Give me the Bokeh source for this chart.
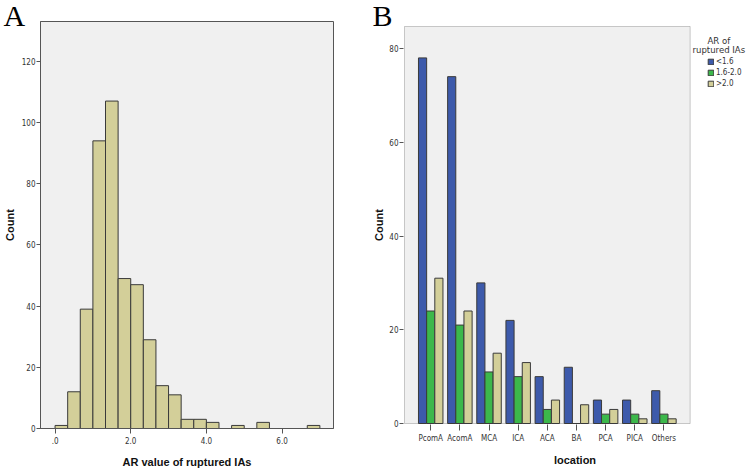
from bokeh.embed import file_html
from bokeh.layouts import column, row
from bokeh.models import (BoxAnnotation, ColumnDataSource, FixedTicker, Label,
                          Legend, LegendItem, Range1d, Title)
from bokeh.plotting import figure
from bokeh.resources import INLINE
from bokeh.transform import dodge

# ---------------- Panel A data: histogram of AR values ----------------
hist_bin_width = 1 / 3
hist_counts = [1, 12, 39, 94, 107, 49, 47, 29, 14, 11, 3, 3, 2, 0, 1, 0, 2, 0, 0, 0, 1]
a_xticks = [0, 2, 4, 6]
a_xtick_labels = [".0", "2.0", "4.0", "6.0"]
a_yticks = [0, 20, 40, 60, 80, 100, 120]

# ---------------- Panel B data: location by AR group ----------------
locations = ["PcomA", "AcomA", "MCA", "ICA", "ACA", "BA", "PCA", "PICA", "Others"]
ar_lt_16 = [78, 74, 30, 22, 10, 12, 5, 5, 7]
ar_16_20 = [24, 21, 11, 10, 3, 0, 2, 2, 2]
ar_gt_20 = [31, 24, 15, 13, 5, 4, 3, 1, 1]
series_names = ["<1.6", "1.6-2.0", ">2.0"]
legend_title_lines = ["AR of", "ruptured IAs"]
b_yticks = [0, 20, 40, 60, 80]

# ---------------- styles ----------------
BG = "#f0f0f0"
FRAME = "#555555"
EDGE = "#3a3a3a"
BEIGE = "#d3cf99"
BLUE = "#3d5aab"
GREEN = "#3cb84b"
TICK_FONT = "DejaVu Sans Condensed"
TITLE_FONT = "Liberation Sans"
PANEL_FONT = "Liberation Serif"


def style_axes(p):
    for ax in (p.xaxis[0], p.yaxis[0]):
        ax.axis_line_color = FRAME
        ax.major_tick_line_color = FRAME
        ax.minor_tick_line_color = None
        ax.major_tick_in = 0
        ax.major_label_text_font = TICK_FONT
        ax.major_label_text_font_size = "8px"
        ax.major_label_text_color = "#333333"
        ax.axis_label_text_font = TITLE_FONT
        ax.axis_label_text_font_style = "bold"
        ax.axis_label_text_font_size = "11px"
        ax.axis_label_text_color = "#111111"
    p.xgrid.visible = False
    p.ygrid.visible = False


# ---------------- Figure A ----------------
pA = figure(width=370, height=470, output_backend="svg", toolbar_location=None,
            x_range=Range1d(-0.385, 7.36), y_range=Range1d(0, 133),
            min_border_left=37, min_border_right=37, min_border_top=21,
            min_border_bottom=41, background_fill_color=BG,
            border_fill_color="white", outline_line_color=FRAME)

lefts, rights, tops = [], [], []
for i, c in enumerate(hist_counts):
    if c > 0:
        lefts.append(i * hist_bin_width)
        rights.append((i + 1) * hist_bin_width)
        tops.append(c)
srcA = ColumnDataSource(dict(left=lefts, right=rights, top=tops))
pA.quad(left="left", right="right", top="top", bottom=0, source=srcA,
        fill_color=BEIGE, line_color=EDGE, line_width=1)

style_axes(pA)
pA.xaxis.ticker = FixedTicker(ticks=a_xticks)
pA.xaxis.major_label_overrides = dict(zip(a_xticks, a_xtick_labels))
pA.xaxis.major_tick_out = 5
pA.xaxis.major_label_standoff = 3
pA.xaxis.axis_label = "AR value of ruptured IAs"
pA.xaxis.axis_label_standoff = 9
pA.yaxis.ticker = FixedTicker(ticks=a_yticks)
pA.yaxis.major_tick_out = 4
pA.yaxis.major_label_standoff = 1
pA.yaxis.axis_label = "Count"
pA.yaxis.axis_label_standoff = 3

pA.add_layout(Title(text="A", align="left", offset=-37, standoff=-20,
                    text_font=PANEL_FONT, text_font_size="30px",
                    text_font_style="normal", text_color="#000000"), "above")

# ---------------- Figure B ----------------
# numeric category positions (one per location), labelled by the axis
b_pos = list(range(len(locations)))
b_pad = 0.9                      # space between box edge and outer categories
b_ymax = 84.7
px_x = 1 / 29.49                 # one screen pixel in x data units
px_y = 1 / 4.6875                # one screen pixel in y data units
b_xstart = -b_pad - px_x
b_xend = b_xstart + 347 * px_x   # frame runs to the right edge (room for legend)

pB = figure(width=376, height=470, output_backend="svg", toolbar_location=None,
            x_range=Range1d(b_xstart, b_xend),
            y_range=Range1d(-px_y, b_ymax + px_y),
            min_border_left=29, min_border_right=0, min_border_top=25,
            min_border_bottom=46, background_fill_color="white",
            border_fill_color="white", outline_line_color=None)

pB.add_layout(BoxAnnotation(left=-b_pad, right=b_pos[-1] + b_pad, bottom=0,
                            top=b_ymax, fill_color=BG, fill_alpha=1.0,
                            line_color=FRAME, line_width=1, level="underlay"))

srcB = ColumnDataSource(dict(x=b_pos, lt16=ar_lt_16, mid=ar_16_20, gt20=ar_gt_20))
bar_w = 0.28
r1 = pB.vbar(x=dodge("x", -bar_w), top="lt16", width=bar_w, source=srcB,
             fill_color=BLUE, line_color=EDGE)
r2 = pB.vbar(x=dodge("x", 0), top="mid", width=bar_w, source=srcB,
             fill_color=GREEN, line_color=EDGE)
r3 = pB.vbar(x=dodge("x", bar_w), top="gt20", width=bar_w, source=srcB,
             fill_color=BEIGE, line_color=EDGE)

style_axes(pB)
pB.xaxis.ticker = FixedTicker(ticks=b_pos)
pB.xaxis.major_label_overrides = dict(zip(b_pos, locations))
pB.xaxis.axis_line_color = None
pB.xaxis.major_tick_out = 6
pB.xaxis.major_label_standoff = 3
pB.xaxis.axis_label = "location"
pB.xaxis.axis_label_standoff = 8
pB.yaxis.ticker = FixedTicker(ticks=b_yticks)
pB.yaxis.axis_line_color = None
pB.yaxis.major_tick_out = 4
pB.yaxis.major_label_standoff = 1
pB.yaxis.axis_label = "Count"
pB.yaxis.axis_label_standoff = 1

legend = Legend(items=[LegendItem(label=n, renderers=[r])
                       for n, r in zip(series_names, [r1, r2, r3])],
                location=(304, 336), orientation="vertical",
                glyph_width=7, glyph_height=7, label_height=7,
                label_standoff=2, spacing=2, padding=0, margin=0,
                border_line_color=None, background_fill_alpha=0,
                label_text_font=TICK_FONT, label_text_font_size="8px",
                label_text_color="#333333")
pB.add_layout(legend)

title_x = b_xstart + 319 * px_x
for txt, yy in zip(legend_title_lines, (b_ymax + px_y - 15 * px_y,
                                         b_ymax + px_y - 24 * px_y)):
    pB.add_layout(Label(x=title_x, y=yy, text=txt, text_align="center",
                        text_baseline="alphabetic", text_font=TICK_FONT,
                        text_font_size="9.5px", text_color="#333333"))

pB.add_layout(Title(text="B", align="left", offset=-31, standoff=-12,
                    text_font=PANEL_FONT, text_font_size="30px",
                    text_font_style="normal", text_color="#000000"), "above")

layout = row(column(pA), column(pB))
open("out.html", "w").write(file_html(layout, INLINE))
